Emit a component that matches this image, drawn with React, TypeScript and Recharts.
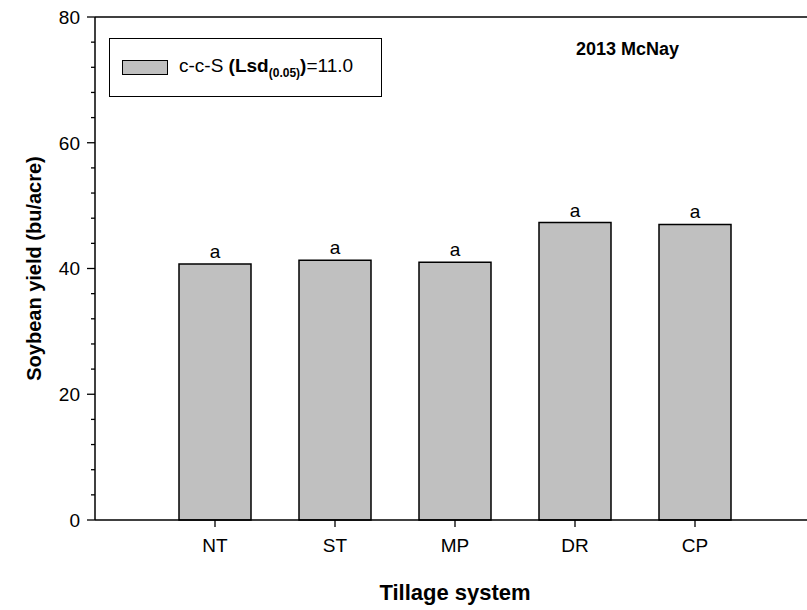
import React from "react";
import { ComposedChart, Bar, XAxis, YAxis, LabelList, Legend, ReferenceLine } from "recharts";

const tillage = ["NT", "ST", "MP", "DR", "CP"];
const positions = [1, 2, 3, 4, 5];
const yieldValues = [40.7, 41.3, 41.0, 47.3, 47.0];
const letters = ["a", "a", "a", "a", "a"];
const yTicks = [0, 4, 8, 12, 16, 20, 24, 28, 32, 36, 40, 44, 48, 52, 56, 60, 64, 68, 72, 76, 80];
const majorTicks = [0, 20, 40, 60, 80];

const data = tillage.map((name, i) => ({
  pos: positions[i],
  name,
  yield: yieldValues[i],
  letter: letters[i],
}));

const FONT = "'Liberation Sans', Arial, Helvetica, sans-serif";
const Y_TICK_SIZE = 8;
const Y_TICK_MARGIN = 6;

const YTick = (props: any) => {
  const { x, y, payload } = props;
  const axisX = x + Y_TICK_SIZE + Y_TICK_MARGIN;
  const major = majorTicks.includes(payload.value);
  return (
    <g>
      <line x1={axisX - (major ? 8 : 4)} x2={axisX} y1={y} y2={y} stroke="#000" strokeWidth={1.3} />
      {major && (
        <text x={axisX - 15} y={y} dy="0.36em" textAnchor="end" fontSize={19} fill="#000">
          {payload.value}
        </text>
      )}
    </g>
  );
};

const LegendBox = ({ payload }: any) => (
  <div
    style={{
      border: "1px solid #000",
      width: 273,
      height: 59,
      boxSizing: "border-box",
      display: "flex",
      alignItems: "center",
      paddingLeft: 12,
      background: "#fff",
      fontFamily: FONT,
      color: "#000",
    }}
  >
    <span
      style={{
        display: "inline-block",
        flexShrink: 0,
        width: 46,
        height: 15,
        boxSizing: "border-box",
        background: payload?.[0]?.color ?? "#c0c0c0",
        border: "1px solid #000",
      }}
    />
    <span style={{ marginLeft: 11, fontSize: 19, whiteSpace: "nowrap" }}>
      {payload?.[0]?.value}{" "}
      <b>
        (Lsd<sub style={{ fontSize: 12 }}>(0.05)</sub>)
      </b>
      =11.0
    </span>
  </div>
);

export default function App() {
  return (
    <div
      style={{
        position: "absolute",
        left: 0,
        top: 0,
        width: 807,
        height: 610,
        overflow: "hidden",
        background: "#fff",
        fontFamily: FONT,
      }}
    >
      <ComposedChart width={830} height={610} data={data} margin={{ top: 17, right: 15, bottom: 30, left: 0 }}>
        <XAxis
          type="number"
          dataKey="pos"
          domain={[0, 6]}
          ticks={positions}
          interval={0}
          tickFormatter={(v: number) => tillage[v - 1]}
          tick={{ fill: "#000", fontSize: 19 }}
          tickSize={7}
          tickMargin={12}
          height={60}
          axisLine={{ stroke: "#000", strokeWidth: 1.5 }}
          tickLine={{ stroke: "#000", strokeWidth: 1.3 }}
          label={{
            content: (p: any) => (
              <text
                x={p.viewBox.x + p.viewBox.width / 2}
                y={p.viewBox.y + 80}
                textAnchor="middle"
                fontSize={22}
                fontWeight="bold"
                fill="#000"
              >
                Tillage system
              </text>
            ),
          }}
        />
        <YAxis
          type="number"
          domain={[0, 80]}
          ticks={yTicks}
          interval={0}
          width={95}
          tickSize={Y_TICK_SIZE}
          tickMargin={Y_TICK_MARGIN}
          tickLine={false}
          tick={<YTick />}
          axisLine={{ stroke: "#000", strokeWidth: 1.5 }}
          label={{
            content: (p: any) => {
              const cx = 34;
              const cy = p.viewBox.y + p.viewBox.height / 2;
              return (
                <text
                  x={cx}
                  y={cy}
                  transform={`rotate(-90 ${cx} ${cy})`}
                  textAnchor="middle"
                  dominantBaseline="central"
                  fontSize={20}
                  fontWeight="bold"
                  fill="#000"
                >
                  Soybean yield (bu/acre)
                </text>
              );
            },
          }}
        />
        <ReferenceLine y={80} stroke="#000" strokeWidth={1.5} />
        <Legend
          content={<LegendBox />}
          layout="vertical"
          align="center"
          verticalAlign="middle"
          wrapperStyle={{ position: "absolute", left: 109, top: 38, width: "auto", height: "auto" }}
        />
        <Bar
          dataKey="yield"
          name="c-c-S"
          barSize={72}
          fill="#c0c0c0"
          stroke="#000"
          strokeWidth={1.5}
          isAnimationActive={false}
        >
          <LabelList dataKey="letter" position="top" offset={6} fill="#000" fontSize={19} />
        </Bar>
      </ComposedChart>
      <div
        style={{
          position: "absolute",
          left: 576,
          top: 39,
          fontSize: 18,
          fontWeight: "bold",
          color: "#000",
        }}
      >
        2013 McNay
      </div>
    </div>
  );
}
